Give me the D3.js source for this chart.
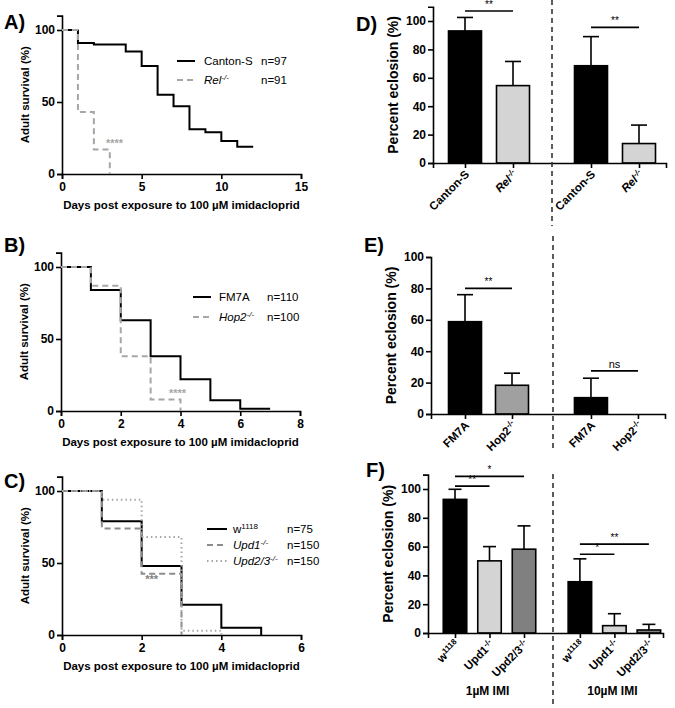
<!DOCTYPE html>
<html><head><meta charset="utf-8">
<script src="https://cdn.jsdelivr.net/npm/d3@7"></script>
<style>
body{margin:0;background:#fff}
text{font-family:"Liberation Sans",Arial,sans-serif}
</style>
</head><body>
<svg id="c" width="675" height="708"></svg>
<script>
// ---------- DATA ----------
// Panel A: survival (%) vs days
const daysA_canton = [0,1,2,4,5,6,7,8,9,10,11,12];
const survA_canton = [100,91,90,85,75,55,47,31,29,23,19,19];
const daysA_rel = [0,1,2,3];
const survA_rel = [100,43,17,0];
const ticksA_x = [0,5,10,15];
// Panel B
const daysB_fm7a = [0,1,2,3,4,5,6,7];
const survB_fm7a = [100,84,63,38,22,7.5,1.5,1.5];
const daysB_hop2 = [0,1,2,3,4];
const survB_hop2 = [100,87,38,8,0];
const ticksB_x = [0,2,4,6,8];
// Panel C
const daysC_w = [0,1,2,3,4,5];
const survC_w = [100,79,48,21,5,0];
const daysC_upd1 = [0,1,2,3];
const survC_upd1 = [100,74,42.5,0];
const daysC_upd23 = [0,1,2,3,4];
const survC_upd23 = [100,94,68,3,0];
const ticksC_x = [0,2,4,6];
const ticksSurv_y = [0,50,100];

// Panel D: percent eclosion
const catsD = ["Canton-S","Rel","Canton-S","Rel"];
const meanD = [93,54.5,68.5,13.7];
const sdD = [9.5,17,20.5,13];
// Panel E
const catsE = ["FM7A","Hop2","FM7A","Hop2"];
const meanE = [58.8,18.3,10.4,0];
const sdE = [17.2,7.7,12.4,0];
// Panel F
const catsF = ["w","Upd1","Upd2/3","w","Upd1","Upd2/3"];
const meanF = [92.8,50.1,58.2,35.6,5.1,2.1];
const sdF = [7,9.9,16.2,15.9,8.3,3.9];
const groupsF = ["1\u00b5M IMI","10\u00b5M IMI"];
const ticksBar_y = [0,20,40,60,80,100];

// ---------- DRAWING ----------
const svg = d3.select("#c");
const FONT = '"Liberation Sans",Arial,sans-serif';

function styleAxis(g){
  g.selectAll("path,line").attr("stroke","#000").attr("stroke-width",1.6);
  g.selectAll("text").attr("font-family",FONT).attr("font-weight","bold").attr("font-size",12).attr("fill","#000");
}
function richText(sel, base, sup, italic){
  sel.append("tspan").text(base).attr("font-style", italic?"italic":"normal");
  if(sup){
    sel.append("tspan").text(sup).attr("font-size","70%").attr("dy","-0.5em").attr("font-style", italic?"italic":"normal");
  }
}
function panelLabel(t,x,y){
  svg.append("text").attr("x",x).attr("y",y).text(t)
    .attr("font-size",20).attr("font-weight","bold").attr("fill","#000");
}

function survival(cfg){
  const g = svg.append("g");
  const x = d3.scaleLinear().domain([0,cfg.xmax]).range([cfg.xl,cfg.xr]);
  const y = d3.scaleLinear().domain([0,110]).range([cfg.y0, cfg.y0 - 1.1*(cfg.y0-cfg.y100)]);
  const gx = g.append("g").attr("transform",`translate(0,${cfg.y0})`)
    .call(d3.axisBottom(x).tickValues(cfg.xticks).tickFormat(d3.format("d")).tickSizeOuter(0).tickSize(5).tickPadding(3));
  styleAxis(gx);
  const gy = g.append("g").attr("transform",`translate(${cfg.xl},0)`)
    .call(d3.axisLeft(y).tickValues(ticksSurv_y).tickFormat(d3.format("d")).tickSizeOuter(0).tickSize(5).tickPadding(2));
  styleAxis(gy);
  const line = d3.line().x(d=>x(d[0])).y(d=>y(d[1])).curve(d3.curveStepAfter);
  cfg.series.forEach(s=>{
    g.append("path").datum(s.days.map((d,i)=>[d,s.vals[i]]))
      .attr("d",line).attr("fill","none").attr("stroke",s.color)
      .attr("stroke-width",s.w||2).attr("stroke-dasharray",s.dash||null);
  });
  // titles
  g.append("text").attr("x",(cfg.xl+cfg.xr)/2).attr("y",cfg.y0+35).attr("text-anchor","middle")
    .attr("font-size",11.5).attr("font-weight","bold").text("Days post exposure to 100 \u00b5M imidacloprid");
  g.append("text").attr("transform",`translate(${cfg.xl-33},${(cfg.y0+y(110))/2}) rotate(-90)`)
    .attr("text-anchor","middle").attr("font-size",11.5).attr("font-weight","bold").text("Adult survival (%)");
  // legend
  cfg.series.forEach((s,i)=>{
    const ly = cfg.ly + i*cfg.lstep;
    g.append("line").attr("x1",cfg.lx).attr("x2",cfg.lx+cfg.llen).attr("y1",ly).attr("y2",ly)
      .attr("stroke",s.color).attr("stroke-width",s.w||2).attr("stroke-dasharray",s.dash||null);
    const t = g.append("text").attr("x",cfg.lx+cfg.llen+cfg.lgap).attr("y",ly+4).attr("font-size",11.5).attr("fill","#000");
    richText(t,s.name,s.sup,s.italic);
    g.append("text").attr("x",cfg.nx).attr("y",ly+4).attr("font-size",11.5).attr("fill","#000").text(s.n);
  });
  // annotation
  g.append("text").attr("x",x(cfg.ann.x)).attr("y",y(cfg.ann.y)).attr("text-anchor","middle")
    .attr("font-size",11).attr("font-weight","bold").attr("fill",cfg.ann.color).text(cfg.ann.t);
}

survival({xl:62,xr:301,y0:174,y100:30,xmax:15,xticks:ticksA_x,
  series:[
    {days:daysA_canton,vals:survA_canton,color:"#000",name:"Canton-S",n:"n=97"},
    {days:daysA_rel,vals:survA_rel,color:"#a6a6a6",dash:"6,4",name:"Rel",sup:"-/-",italic:true,n:"n=91"}],
  lx:177,llen:18,lgap:9,ly:61,lstep:19,nx:261,
  ann:{x:3.3,y:19,t:"****",color:"#a6a6a6"}});
survival({xl:61,xr:300,y0:411,y100:267,xmax:8,xticks:ticksB_x,
  series:[
    {days:daysB_fm7a,vals:survB_fm7a,color:"#000",name:"FM7A",n:"n=110"},
    {days:daysB_hop2,vals:survB_hop2,color:"#a6a6a6",dash:"6,4",name:"Hop2",sup:"-/-",italic:true,n:"n=100"}],
  lx:193,llen:18,lgap:8,ly:297,lstep:20,nx:267,
  ann:{x:3.9,y:9.5,t:"****",color:"#a6a6a6"}});
survival({xl:62,xr:301,y0:635,y100:491,xmax:6,xticks:ticksC_x,
  series:[
    {days:daysC_w,vals:survC_w,color:"#000",name:"w",sup:"1118",n:"n=75"},
    {days:daysC_upd1,vals:survC_upd1,color:"#8c8c8c",dash:"6,4",name:"Upd1",sup:"-/-",italic:true,n:"n=150"},
    {days:daysC_upd23,vals:survC_upd23,color:"#a6a6a6",dash:"1.5,3",name:"Upd2/3",sup:"-/-",italic:true,n:"n=150"}],
  lx:207,llen:20,lgap:6,ly:529,lstep:16,nx:287,
  ann:{x:2.25,y:36,t:"***",color:"#808080"}});

panelLabel("A)",4,29);
panelLabel("B)",4,252);
panelLabel("C)",4,488);
panelLabel("D)",356,31);
panelLabel("E)",364,252);
panelLabel("F)",366,477);

function barPanel(cfg){
  const g = svg.append("g");
  const pos = cfg.cats.map((c,i)=> i + (i>=cfg.split ? cfg.gap : 0));
  const x = d3.scaleLinear().domain([(cfg.axl-cfg.c0)/cfg.step,(cfg.axr-cfg.c0)/cfg.step]).range([cfg.axl,cfg.axr]);
  const y = d3.scaleLinear().domain([0,cfg.ymax]).range([cfg.y0, cfg.y0 - cfg.ymax/100*(cfg.y0-cfg.y100)]);
  // bars
  g.selectAll("rect.bar").data(cfg.mean).join("rect")
    .attr("x",(d,i)=>x(pos[i])-cfg.bw/2).attr("width",cfg.bw)
    .attr("y",d=>y(d)).attr("height",d=>cfg.y0-y(d))
    .attr("fill",(d,i)=>cfg.colors[i]).attr("stroke","#000").attr("stroke-width",1.6);
  // error bars (upper)
  cfg.mean.forEach((m,i)=>{
    if(cfg.sd[i]<=0) return;
    const cx = x(pos[i]);
    g.append("line").attr("x1",cx).attr("x2",cx).attr("y1",y(m)).attr("y2",y(m+cfg.sd[i]))
      .attr("stroke","#000").attr("stroke-width",1.6);
    g.append("line").attr("x1",cx-cfg.cap).attr("x2",cx+cfg.cap).attr("y1",y(m+cfg.sd[i])).attr("y2",y(m+cfg.sd[i]))
      .attr("stroke","#000").attr("stroke-width",1.6);
  });
  // axes
  const gx = g.append("g").attr("transform",`translate(0,${cfg.y0})`)
    .call(d3.axisBottom(x).tickValues(pos).tickFormat("").tickSizeOuter(0).tickSize(5));
  styleAxis(gx);
  const gy = g.append("g").attr("transform",`translate(${cfg.axl},0)`)
    .call(d3.axisLeft(y).tickValues(ticksBar_y).tickFormat(d3.format("d")).tickSizeOuter(0).tickSize(5).tickPadding(2));
  styleAxis(gy);
  // rotated category labels
  cfg.cats.forEach((c,i)=>{
    const t = g.append("text").attr("transform",`translate(${x(pos[i])+5},${cfg.y0+12}) rotate(-45)`)
      .attr("text-anchor","end").attr("font-size",11.5).attr("font-weight","bold").attr("fill","#000");
    richText(t,c,cfg.sups[i],cfg.ital[i]);
  });
  g.append("text").attr("transform",`translate(${cfg.axl-35},${(cfg.y0+y(cfg.ymax))/2}) rotate(-90)`)
    .attr("text-anchor","middle").attr("font-size",14).attr("font-weight","bold").text("Percent eclosion (%)");
  // separator
  g.append("line").attr("x1",cfg.sepx).attr("x2",cfg.sepx).attr("y1",cfg.sep[0]).attr("y2",cfg.sep[1])
    .attr("stroke","#333").attr("stroke-width",1.6).attr("stroke-dasharray","5,4");
  // significance
  cfg.sig.forEach(s=>{
    const yy = y(s.v);
    g.append("line").attr("x1",x(pos[s.a])).attr("x2",x(pos[s.b])).attr("y1",yy).attr("y2",yy)
      .attr("stroke","#000").attr("stroke-width",1.6);
    g.append("text").attr("x",(x(pos[s.a])+x(pos[s.b]))/2).attr("y",yy-3).attr("text-anchor","middle")
      .attr("font-size",s.t==="ns"?11:10).attr("fill","#000").text(s.t);
  });
  return {x,pos,y};
}

barPanel({cats:catsD,mean:meanD,sd:sdD,split:2,gap:0.625,c0:465,step:48,axl:433,axr:666,
  y0:163,y100:21,ymax:110,bw:33,cap:8,
  colors:["#000","#d4d4d4","#000","#d4d4d4"],
  sups:[null,"-/-",null,"-/-"],ital:[false,true,false,true],
  sepx:552,sep:[0,226],
  sig:[{a:0,b:1,v:107,t:"**"},{a:2,b:3,v:95.5,t:"**"}]});

barPanel({cats:catsE,mean:meanE,sd:sdE,split:2,gap:0.68,c0:465,step:47,axl:431,axr:665,
  y0:414,y100:257,ymax:100,bw:33,cap:8,
  colors:["#000","#a0a0a0","#000","#a0a0a0"],
  sups:[null,"-/-",null,"-/-"],ital:[false,false,false,false],
  sepx:553,sep:[236,452],
  sig:[{a:0,b:1,v:80,t:"**"},{a:2,b:3,v:27.5,t:"ns"}]});

const fp = barPanel({cats:catsF,mean:meanF,sd:sdF,split:3,gap:0.62,c0:455,step:34.5,axl:428,axr:663,
  y0:633,y100:489,ymax:110,bw:23.5,cap:6.5,
  colors:["#000","#d4d4d4","#808080","#000","#d4d4d4","#808080"],
  sups:["1118","-/-","-/-","1118","-/-","-/-"],ital:[false,false,false,false,false,false],
  sepx:553,sep:[474,706],
  sig:[{a:0,b:1,v:102,t:"**"},{a:0,b:2,v:108.8,t:"*"},{a:3,b:4,v:54.7,t:"*"},{a:3,b:5,v:61.7,t:"**"}]});

groupsF.forEach((gname,i)=>{
  const cx = fp.x(fp.pos[i*3+1]);
  svg.append("text").attr("x",cx-2).attr("y",695).attr("text-anchor","middle")
    .attr("font-size",12).attr("font-weight","bold").text(gname);
});
</script>
</body></html>
